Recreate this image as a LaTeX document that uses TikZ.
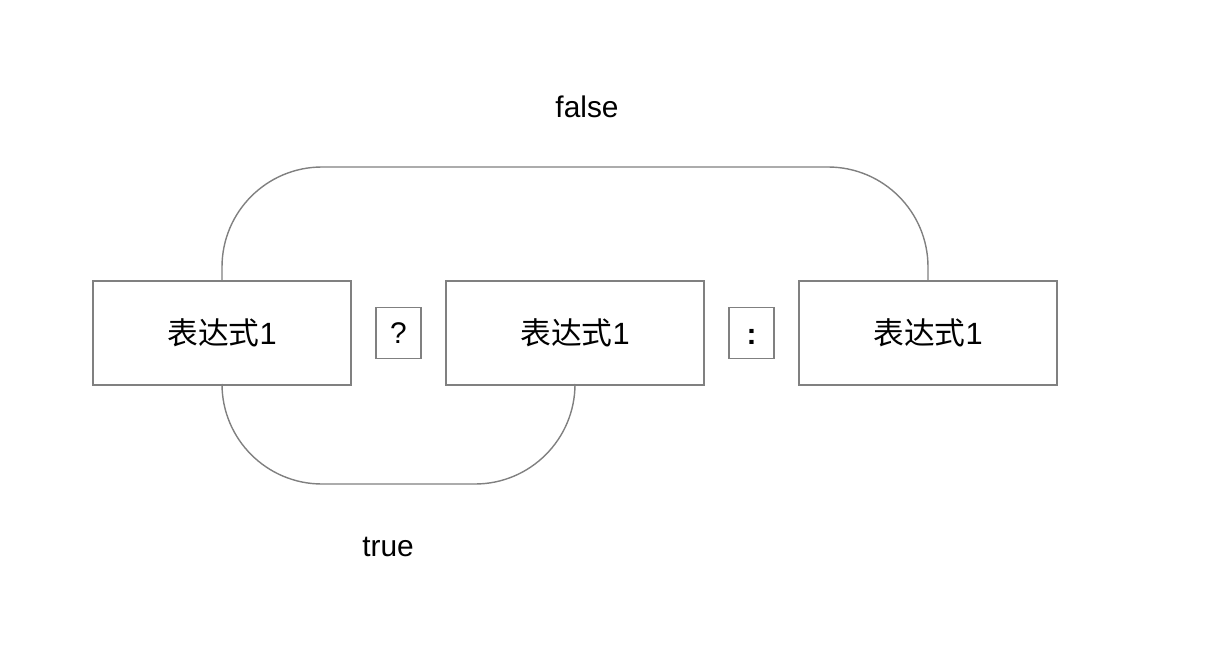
\documentclass[tikz,border=0pt]{standalone}
\usepackage{fontspec}
\setmainfont{Liberation Sans}
\newfontfamily\cjk{Noto Sans CJK SC}
\usetikzlibrary{positioning}

\begin{document}
\begin{tikzpicture}[
    node distance=0.5cm,
    exprbox/.style={rectangle, draw=black!50, line width=0.8pt, outer sep=0pt, minimum width=5.16cm, minimum height=2.08cm, inner sep=0pt, font=\fontsize{17.5}{20}\selectfont},
    opbox/.style={rectangle, draw=black!50, line width=0.8pt, outer sep=0pt, minimum width=0.9cm, minimum height=1.02cm, inner sep=0pt, font=\fontsize{17}{20}\selectfont},
    branch/.style={draw=black!50, line width=0.8pt, rounded corners=2cm},
    lbl/.style={font=\fontsize{17}{20}\selectfont}
]
            \useasboundingbox (0,0) rectangle (24.4,13.12);
            \node[exprbox] (e1) at (4.44,6.46) {{\cjk 表达式}1};
            \node[opbox, right=of e1] (q) {?};
            \node[exprbox, right=of q] (e2) {{\cjk 表达式}1};
            \node[opbox, right=of e2] (c) {\raisebox{-0.23cm}[0pt][0pt]{\textbf{:}}};
            \node[exprbox, right=of c] (e3) {{\cjk 表达式}1};
            \draw[branch] (e1.north) -- ++(0,2.28) -| (e3.north);
            \draw[branch] (e1.south) -- ++(0,-1.98) -| (e2.south);
            \node[lbl] (f) at (11.74,10.98) {false};
            \node[lbl] (t) at (7.76,2.18) {true};
        \end{tikzpicture}
\end{document}
